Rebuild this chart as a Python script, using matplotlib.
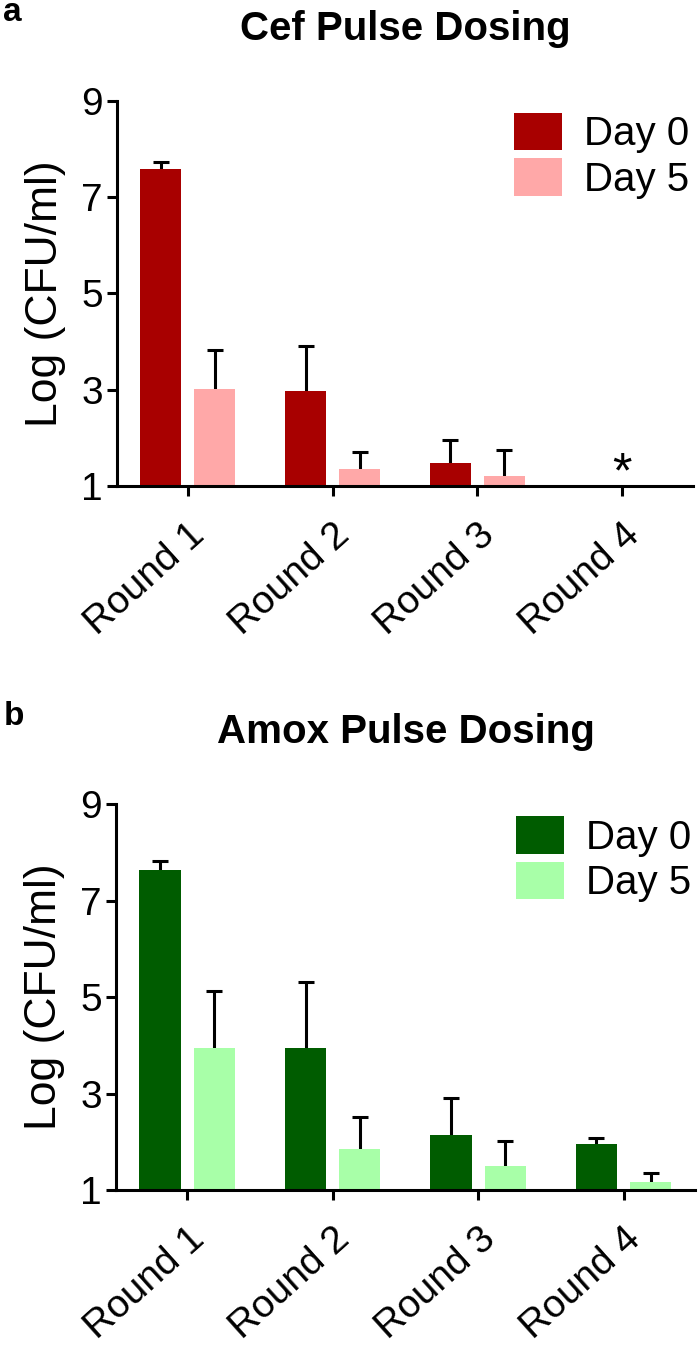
import numpy as np
import matplotlib
matplotlib.use("Agg")
import matplotlib.pyplot as plt

plt.rcParams["font.family"] = ["Liberation Sans", "DejaVu Sans"]

rounds = ["Round 1", "Round 2", "Round 3", "Round 4"]
series_labels = ["Day 0", "Day 5"]

# Cef pulse dosing (panel a); round 4 has no growth
cef_day0 = [7.59, 2.98, 1.47, np.nan]
cef_day0_err = [0.14, 0.93, 0.48, np.nan]
cef_day5 = [3.01, 1.35, 1.21, np.nan]
cef_day5_err = [0.81, 0.35, 0.54, np.nan]

# Amox pulse dosing (panel b)
amox_day0 = [7.63, 3.95, 2.14, 1.95]
amox_day0_err = [0.19, 1.37, 0.77, 0.12]
amox_day5 = [3.94, 1.86, 1.50, 1.17]
amox_day5_err = [1.19, 0.66, 0.52, 0.19]

cef_colors = ["#a80000", "#ffa8a8"]
amox_colors = ["#005c00", "#a8ffa8"]

fig = plt.figure(figsize=(7, 13.5), dpi=100)


def panel(rect, title, letter, d0, e0, d5, e5, colors, star=False):
    ax = fig.add_axes(rect)
    x = np.arange(len(rounds))
    w = 0.283
    off = 0.187
    for xs, vals, errs, col, lab in [(x - off, d0, e0, colors[0], series_labels[0]),
                                     (x + off, d5, e5, colors[1], series_labels[1])]:
        vals = np.asarray(vals, dtype=float)
        errs = np.asarray(errs, dtype=float)
        ax.bar(xs, vals, width=w, color=col, label=lab, zorder=2)
        eb = ax.errorbar(xs, vals, yerr=[np.zeros_like(errs), errs], fmt="none",
                         ecolor="black", elinewidth=2.2, capsize=6, capthick=2.2,
                         zorder=1)
        # upper error only: hide the cap that sits on the bar top
        eb[1][0].set_visible(False)
    if star:
        ax.text(3, 0.97, "*", ha="center", va="baseline", fontsize=36)
    ax.set_xlim(-0.49, 3.49)
    ax.set_ylim(1, 9)
    ax.set_yticks([1, 3, 5, 7, 9])
    ax.set_xticks(x)
    ax.set_xticklabels(rounds, rotation=42, ha="right", va="top",
                       rotation_mode="anchor", fontsize=28)
    for s in ["top", "right"]:
        ax.spines[s].set_visible(False)
    for s in ["left", "bottom"]:
        ax.spines[s].set_linewidth(2.2)
    ax.tick_params(axis="both", width=2.2, length=7, pad=3)
    ax.tick_params(axis="y", labelsize=28)
    ax.tick_params(axis="x", pad=15)
    ax.set_ylabel("Log (CFU/ml)", fontsize=32, labelpad=11)
    ax.set_title(title, fontsize=29, fontweight="bold", pad=44)
    ax.legend(loc="upper right", bbox_to_anchor=(1.022, 1.01), frameon=False,
              fontsize=29, handlelength=1.2, handleheight=1.05,
              handletextpad=0.55, labelspacing=0.12, borderaxespad=0)
    bb = ax.get_position()
    fig.text(0.005, bb.y1 + 0.065, letter, fontsize=24, fontweight="bold",
             ha="left", va="center")
    return ax


panel([0.1671, 0.64, 0.8229, 0.2854], "Cef Pulse Dosing", "a",
      cef_day0, cef_day0_err, cef_day5, cef_day5_err, cef_colors, star=True)
panel([0.1657, 0.1185, 0.827, 0.2859], "Amox Pulse Dosing", "b",
      amox_day0, amox_day0_err, amox_day5, amox_day5_err, amox_colors)

fig.savefig("out.png", dpi=100)
